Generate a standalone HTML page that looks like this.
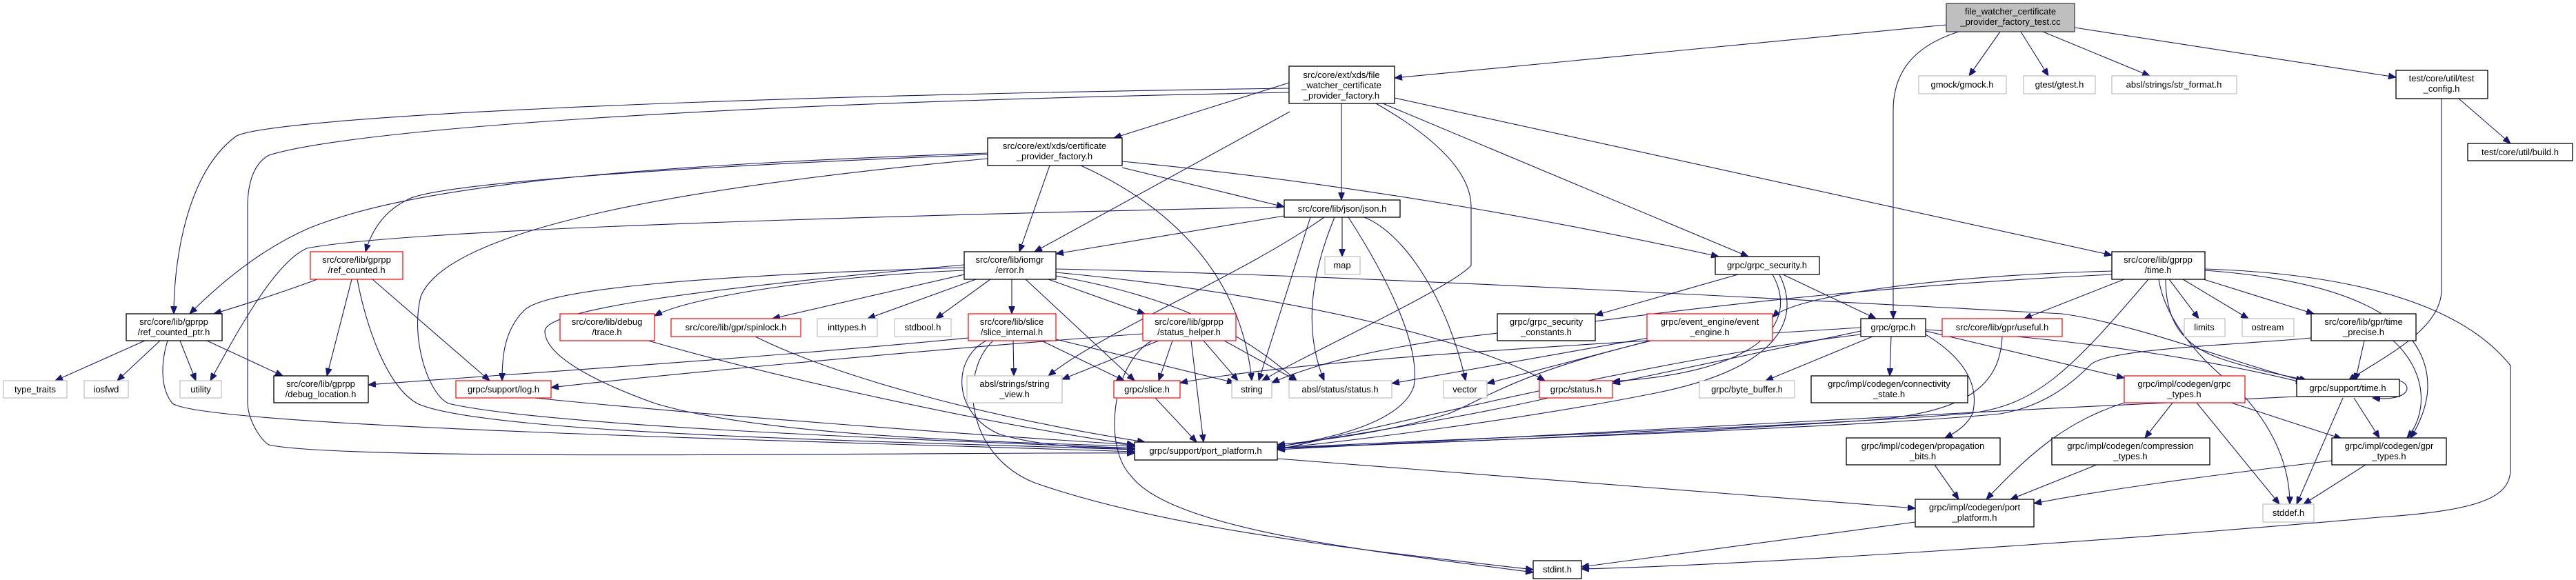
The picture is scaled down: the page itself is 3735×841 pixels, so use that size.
<!DOCTYPE html>
<html><head><meta charset="utf-8"><style>
html,body{margin:0;padding:0;background:#fff;}
svg{display:block;}
text{font-family:"Liberation Sans",sans-serif;font-size:13px;fill:#000;text-anchor:middle;}
.e{fill:none;stroke:#191970;stroke-width:1.1;marker-end:url(#a);}
.b{fill:#fff;stroke:#000;stroke-width:1.3;}
.g{fill:#fff;stroke:#bfbfbf;stroke-width:1.2;}
.r{fill:#fff;stroke:#ff0000;stroke-width:1.2;}
</style></head><body>
<svg width="3735" height="841" viewBox="0 0 3735 841" xmlns="http://www.w3.org/2000/svg">
<defs><marker id="a" markerUnits="userSpaceOnUse" markerWidth="12" markerHeight="9" refX="11" refY="4.5" orient="auto"><path d="M0,0 L11,4.5 L0,9 z" fill="#191970" stroke="#191970"/></marker></defs>
<g>
<path class="e" d="M2822,36 L2022,113"/>
<path class="e" d="M2840,46 C2780,65 2745,100 2745,160 L2745,462"/>
<path class="e" d="M2900,46 L2855,110"/>
<path class="e" d="M2930,46 L2970,110"/>
<path class="e" d="M2962,46 L3117,110"/>
<path class="e" d="M3008,40 L3474,112"/>
<path class="e" d="M3565,143 L3640,208"/>
<path class="e" d="M3540,143 L3540,420 C3540,480 3450,520 3405,552"/>
<path class="e" d="M3450,552 C3500,540 3510,585 3440,577"/>
<path class="e" d="M1869,120 L1615,200"/>
<path class="e" d="M1870,162 L1500,365"/>
<path class="e" d="M1945,150 L1945,290"/>
<path class="e" d="M2005,150 L2535,372"/>
<path class="e" d="M2022,142 L3062,370"/>
<path class="e" d="M1995,150 C2100,210 2133,260 2133,300 L2133,385 C2100,420 1900,510 1830,552"/>
<path class="e" d="M1869,128 C1000,140 400,170 343,197 C270,250 252,380 252,455"/>
<path class="e" d="M1869,134 C1000,150 500,190 390,225 C362,240 359,280 359,300 L359,580 C358,610 380,640 390,645 C500,670 1400,655 1645,657"/>
<path class="e" d="M1522,240 L1478,365"/>
<path class="e" d="M1567,240 C1700,300 1800,400 1815,552"/>
<path class="e" d="M1627,243 L1862,300"/>
<path class="e" d="M1627,234 C2000,270 2300,330 2492,372"/>
<path class="e" d="M1432,222 C900,240 600,270 450,330 C380,360 320,410 275,455"/>
<path class="e" d="M1432,224 C900,245 620,270 590,290 C560,305 540,330 530,365"/>
<path class="e" d="M1432,230 C1000,270 650,330 610,430 C595,490 620,570 650,585 C800,620 1400,640 1645,650"/>
<path class="e" d="M1862,300 C1400,310 600,330 445,360 C400,380 350,470 305,552"/>
<path class="e" d="M1862,313 L1531,368"/>
<path class="e" d="M1946,315 L1946,372"/>
<path class="e" d="M1978,315 C2040,340 2100,440 2125,552"/>
<path class="e" d="M1920,315 C1800,400 1600,480 1520,545"/>
<path class="e" d="M1935,315 C1900,400 1890,480 1920,552"/>
<path class="e" d="M1955,315 C2010,400 2060,500 2050,560 C2030,620 1900,640 1852,648"/>
<path class="e" d="M1900,315 L1825,552"/>
<path class="e" d="M460,405 C420,420 360,440 310,455"/>
<path class="e" d="M510,405 L474,545"/>
<path class="e" d="M540,405 L710,552"/>
<path class="e" d="M518,405 C530,470 560,560 605,585 C700,630 1300,640 1645,652"/>
<path class="e" d="M210,494 L80,552"/>
<path class="e" d="M232,494 L170,552"/>
<path class="e" d="M261,494 L284,552"/>
<path class="e" d="M300,494 L410,545"/>
<path class="e" d="M243,494 C235,520 230,560 250,585 C300,620 1200,640 1645,655"/>
<path class="e" d="M775,577 C1000,600 1400,630 1645,645"/>
<path class="e" d="M1398,392 C1200,400 1000,430 949,458"/>
<path class="e" d="M1398,398 L1120,462"/>
<path class="e" d="M1415,405 L1258,462"/>
<path class="e" d="M1436,405 L1357,462"/>
<path class="e" d="M1467,405 L1467,455"/>
<path class="e" d="M1520,405 L1660,455"/>
<path class="e" d="M1487,405 L1645,552"/>
<path class="e" d="M1531,400 C1700,430 1800,480 1880,552"/>
<path class="e" d="M1531,395 C1900,430 2150,500 2240,552"/>
<path class="e" d="M1531,390 C2000,400 2700,440 2990,455 C3100,470 3250,530 3340,552"/>
<path class="e" d="M1398,388 C1000,400 790,420 760,450 C730,480 728,520 728,552"/>
<path class="e" d="M1398,384 C1000,420 790,450 790,480 C790,520 880,560 950,585 C1100,630 1400,640 1645,647"/>
<path class="e" d="M940,494 C1100,540 1400,610 1645,645"/>
<path class="e" d="M1095,488 C1200,540 1400,600 1660,641"/>
<path class="e" d="M1469,494 L1470,545"/>
<path class="e" d="M1510,494 L1630,552"/>
<path class="e" d="M1531,492 L1790,555"/>
<path class="e" d="M1430,494 C1380,520 1380,600 1450,630 C1520,650 1600,650 1645,650"/>
<path class="e" d="M1440,494 C1390,540 1400,660 1500,700 C1700,770 2000,800 2223,826"/>
<path class="e" d="M1404,490 C1100,520 700,545 534,558"/>
<path class="e" d="M1657,484 C1300,510 900,550 799,562"/>
<path class="e" d="M1680,494 L1540,550"/>
<path class="e" d="M1700,494 L1680,552"/>
<path class="e" d="M1745,494 L1795,552"/>
<path class="e" d="M1727,494 L1745,641"/>
<path class="e" d="M1775,494 L1880,552"/>
<path class="e" d="M1670,494 C1610,530 1600,650 1640,690 C1700,770 2000,800 2223,830"/>
<path class="e" d="M1675,577 L1735,641"/>
<path class="e" d="M2245,577 C2100,610 1900,640 1852,648"/>
<path class="e" d="M2520,398 L2313,457"/>
<path class="e" d="M2585,398 L2720,462"/>
<path class="e" d="M2570,398 C2610,470 2550,540 2338,553"/>
<path class="e" d="M2580,398 C2620,480 2550,540 2400,570 C2200,610 1950,640 1852,650"/>
<path class="e" d="M2400,492 L2156,556"/>
<path class="e" d="M2390,490 L2018,556"/>
<path class="e" d="M2395,494 C2200,540 2150,580 2100,600 C2000,630 1900,640 1852,645"/>
<path class="e" d="M2698,480 L2338,556"/>
<path class="e" d="M2715,488 L2560,552"/>
<path class="e" d="M2742,488 L2740,545"/>
<path class="e" d="M2698,485 C2400,520 2000,620 1852,652"/>
<path class="e" d="M2698,475 C2300,500 1900,520 1711,555"/>
<path class="e" d="M2792,480 L3080,548"/>
<path class="e" d="M2792,478 C3000,490 3200,520 3340,555"/>
<path class="e" d="M2792,485 C2850,520 2870,560 2860,600 C2850,620 2830,630 2820,635"/>
<path class="e" d="M3080,405 L2935,462"/>
<path class="e" d="M3145,405 L3188,462"/>
<path class="e" d="M3165,405 L3260,462"/>
<path class="e" d="M3195,405 L3355,455"/>
<path class="e" d="M3140,405 C3140,460 3160,500 3220,520 C3280,540 3320,545 3345,552"/>
<path class="e" d="M3197,392 C3440,410 3520,480 3520,560 C3520,590 3505,620 3495,635"/>
<path class="e" d="M3130,405 C3140,470 3200,530 3240,560 C3300,620 3320,680 3320,731"/>
<path class="e" d="M3197,390 C3500,400 3600,480 3640,530 L3640,680 C3640,720 3600,740 3450,750 C3000,790 2500,820 2293,825"/>
<path class="e" d="M3115,405 C3000,540 2950,590 2850,600 C2600,620 2000,640 1852,650"/>
<path class="e" d="M3062,393 C2800,400 2600,430 2570,460"/>
<path class="e" d="M3062,398 C2600,420 2300,470 2200,480 C2000,500 1900,530 1844,555"/>
<path class="e" d="M2903,488 C2900,560 2850,600 2700,610 C2400,630 2000,645 1852,650"/>
<path class="e" d="M3428,494 L3415,552"/>
<path class="e" d="M3470,494 C3520,540 3520,600 3490,635"/>
<path class="e" d="M3351,490 C3250,500 3050,505 3030,530 C3000,560 2960,590 2900,600 C2700,620 2100,640 1852,650"/>
<path class="e" d="M3150,584 L3110,635"/>
<path class="e" d="M3185,584 L3305,731"/>
<path class="e" d="M3235,584 L3395,636"/>
<path class="e" d="M3080,584 C3000,610 2950,650 2880,724"/>
<path class="e" d="M3397,577 L3330,731"/>
<path class="e" d="M3413,577 L3450,635"/>
<path class="e" d="M3330,575 C2800,600 2200,630 1852,652"/>
<path class="e" d="M3040,674 L2915,724"/>
<path class="e" d="M3430,674 L3340,731"/>
<path class="e" d="M3381,668 C3200,690 3050,710 2949,730"/>
<path class="e" d="M2805,674 L2840,724"/>
<path class="e" d="M2777,757 L2293,822"/>
<path class="e" d="M1852,665 L2777,737"/>
</g>
<g>
<rect x="2822" y="5" width="186" height="41" fill="#bfbfbf" stroke="#404040" stroke-width="1.3"/><text x="2915" y="21">file_watcher_certificate</text><text x="2915" y="36">_provider_factory_test.cc</text>
<rect class="b" x="1869" y="96" width="153" height="54"/><text x="1945" y="113">src/core/ext/xds/file</text><text x="1945" y="128">_watcher_certificate</text><text x="1945" y="143">_provider_factory.h</text>
<rect class="b" x="1432" y="200" width="195" height="40"/><text x="1529" y="216">src/core/ext/xds/certificate</text><text x="1529" y="231">_provider_factory.h</text>
<rect class="b" x="1862" y="290" width="168" height="25"/><text x="1946" y="307">src/core/lib/json/json.h</text>
<rect class="b" x="1398" y="365" width="133" height="40"/><text x="1464" y="381">src/core/lib/iomgr</text><text x="1464" y="396">/error.h</text>
<rect class="r" x="450" y="365" width="134" height="40"/><text x="517" y="381">src/core/lib/gprpp</text><text x="517" y="396">/ref_counted.h</text>
<rect class="b" x="183" y="455" width="139" height="39"/><text x="252" y="471">src/core/lib/gprpp</text><text x="252" y="486">/ref_counted_ptr.h</text>
<rect class="r" x="812" y="455" width="137" height="39"/><text x="880" y="471">src/core/lib/debug</text><text x="880" y="486">/trace.h</text>
<rect class="r" x="973" y="462" width="188" height="26"/><text x="1067" y="479">src/core/lib/gpr/spinlock.h</text>
<rect class="g" x="1185" y="462" width="87" height="26"/><text x="1228" y="479">inttypes.h</text>
<rect class="g" x="1297" y="462" width="82" height="26"/><text x="1338" y="479">stdbool.h</text>
<rect class="r" x="1404" y="455" width="127" height="39"/><text x="1467" y="471">src/core/lib/slice</text><text x="1467" y="486">/slice_internal.h</text>
<rect class="r" x="1657" y="455" width="135" height="39"/><text x="1724" y="471">src/core/lib/gprpp</text><text x="1724" y="486">/status_helper.h</text>
<rect class="g" x="1402" y="545" width="138" height="39"/><text x="1471" y="561">absl/strings/string</text><text x="1471" y="576">_view.h</text>
<rect class="r" x="1615" y="552" width="96" height="25"/><text x="1663" y="569">grpc/slice.h</text>
<rect class="g" x="1786" y="552" width="58" height="25"/><text x="1815" y="569">string</text>
<rect class="b" x="1645" y="641" width="207" height="26"/><text x="1748" y="658">grpc/support/port_platform.h</text>
<rect class="g" x="5" y="552" width="92" height="25"/><text x="51" y="569">type_traits</text>
<rect class="g" x="122" y="552" width="64" height="25"/><text x="154" y="569">iosfwd</text>
<rect class="g" x="261" y="552" width="60" height="25"/><text x="291" y="569">utility</text>
<rect class="b" x="397" y="545" width="137" height="39"/><text x="465" y="561">src/core/lib/gprpp</text><text x="465" y="576">/debug_location.h</text>
<rect class="r" x="661" y="552" width="138" height="25"/><text x="730" y="569">grpc/support/log.h</text>
<rect class="g" x="1921" y="372" width="51" height="26"/><text x="1946" y="389">map</text>
<rect class="b" x="2487" y="372" width="151" height="26"/><text x="2562" y="389">grpc/grpc_security.h</text>
<rect class="b" x="2171" y="455" width="142" height="39"/><text x="2242" y="471">grpc/grpc_security</text><text x="2242" y="486">_constants.h</text>
<rect class="r" x="2388" y="455" width="182" height="39"/><text x="2479" y="471">grpc/event_engine/event</text><text x="2479" y="486">_engine.h</text>
<rect class="b" x="2698" y="462" width="94" height="26"/><text x="2745" y="479">grpc/grpc.h</text>
<rect class="g" x="1869" y="552" width="149" height="25"/><text x="1943" y="569">absl/status/status.h</text>
<rect class="g" x="2093" y="552" width="63" height="25"/><text x="2124" y="569">vector</text>
<rect class="r" x="2232" y="552" width="106" height="25"/><text x="2285" y="569">grpc/status.h</text>
<rect class="g" x="2464" y="552" width="138" height="25"/><text x="2533" y="569">grpc/byte_buffer.h</text>
<rect class="b" x="2626" y="545" width="227" height="39"/><text x="2739" y="561">grpc/impl/codegen/connectivity</text><text x="2739" y="576">_state.h</text>
<rect class="b" x="2677" y="635" width="223" height="39"/><text x="2788" y="651">grpc/impl/codegen/propagation</text><text x="2788" y="666">_bits.h</text>
<rect class="b" x="2777" y="724" width="172" height="40"/><text x="2863" y="740">grpc/impl/codegen/port</text><text x="2863" y="755">_platform.h</text>
<rect class="b" x="2223" y="813" width="70" height="26"/><text x="2258" y="830">stdint.h</text>
<rect class="g" x="2782" y="110" width="127" height="26"/><text x="2845" y="127">gmock/gmock.h</text>
<rect class="g" x="2934" y="110" width="104" height="26"/><text x="2986" y="127">gtest/gtest.h</text>
<rect class="g" x="3062" y="110" width="181" height="26"/><text x="3152" y="127">absl/strings/str_format.h</text>
<rect class="b" x="3474" y="102" width="133" height="41"/><text x="3540" y="118">test/core/util/test</text><text x="3540" y="133">_config.h</text>
<rect class="b" x="3578" y="208" width="152" height="25"/><text x="3654" y="225">test/core/util/build.h</text>
<rect class="b" x="3062" y="365" width="135" height="40"/><text x="3129" y="381">src/core/lib/gprpp</text><text x="3129" y="396">/time.h</text>
<rect class="r" x="2816" y="462" width="174" height="26"/><text x="2903" y="479">src/core/lib/gpr/useful.h</text>
<rect class="g" x="3167" y="462" width="59" height="26"/><text x="3196" y="479">limits</text>
<rect class="g" x="3251" y="462" width="75" height="26"/><text x="3288" y="479">ostream</text>
<rect class="b" x="3351" y="455" width="152" height="39"/><text x="3427" y="471">src/core/lib/gpr/time</text><text x="3427" y="486">_precise.h</text>
<rect class="r" x="3080" y="545" width="175" height="39"/><text x="3167" y="561">grpc/impl/codegen/grpc</text><text x="3167" y="576">_types.h</text>
<rect class="b" x="3330" y="550" width="149" height="25"/><text x="3404" y="567">grpc/support/time.h</text>
<rect class="b" x="2975" y="635" width="229" height="39"/><text x="3089" y="651">grpc/impl/codegen/compression</text><text x="3089" y="666">_types.h</text>
<rect class="b" x="3381" y="635" width="166" height="39"/><text x="3464" y="651">grpc/impl/codegen/gpr</text><text x="3464" y="666">_types.h</text>
<rect class="g" x="3281" y="731" width="74" height="26"/><text x="3318" y="748">stddef.h</text>
</g>
</svg>
</body></html>
